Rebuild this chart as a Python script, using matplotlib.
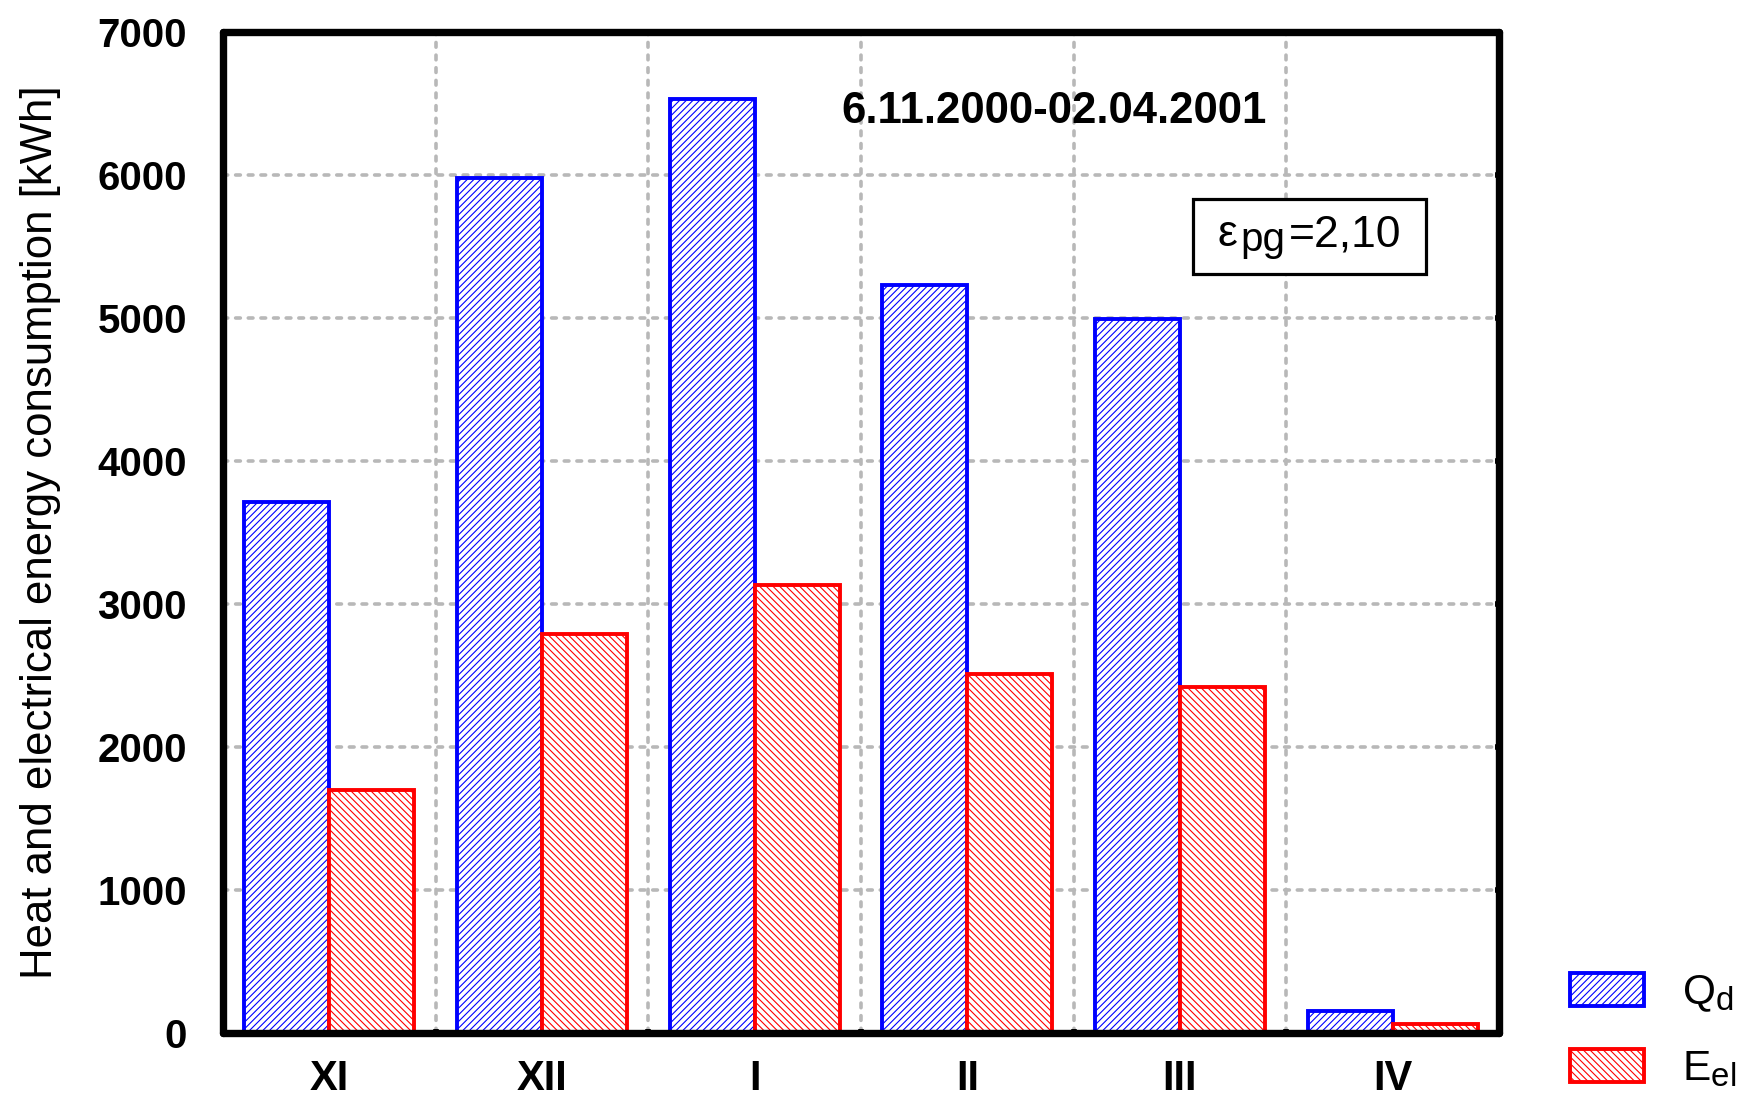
import matplotlib
matplotlib.use('Agg')
import matplotlib.pyplot as plt
import matplotlib._mathtext as mathtext_internal
from matplotlib.offsetbox import (TextArea, HPacker, VPacker, DrawingArea,
                                  AnchoredOffsetbox)
import numpy as np

# Monthly consumption, heating season 2000/2001
months = ['XI', 'XII', 'I', 'II', 'III', 'IV']
heat_qd = [3710, 5980, 6530, 5230, 4990, 155]      # heat delivered Q_d [kWh]
elec_eel = [1700, 2790, 3130, 2510, 2420, 65]      # electricity used E_el [kWh]
y_ticks = [0, 1000, 2000, 3000, 4000, 5000, 6000, 7000]

plt.rcParams['font.family'] = ['Liberation Sans', 'DejaVu Sans']
plt.rcParams['mathtext.fontset'] = 'custom'
plt.rcParams['mathtext.rm'] = 'Liberation Sans'
plt.rcParams['mathtext.it'] = 'Liberation Sans'
plt.rcParams['mathtext.bf'] = 'Liberation Sans:bold'
plt.rcParams['hatch.linewidth'] = 0.8
# slightly larger subscripts in the legend labels
mathtext_internal.SHRINK_FACTOR = 0.78

W, H = 1749, 1096
fig = plt.figure(figsize=(W / 100, H / 100), dpi=100)
ax = fig.add_axes([223 / W, 63 / H, 1276 / W, 1001 / H])

x = np.arange(len(months)) + 0.5
w = 0.4
blue = '#0000ff'
red = '#ff0000'
b1 = ax.bar(x - w / 2, heat_qd, w, facecolor='white', edgecolor=blue,
            hatch='/////', linewidth=2.8, zorder=2)
b2 = ax.bar(x + w / 2, elec_eel, w, facecolor='white', edgecolor=red,
            hatch='\\\\\\\\\\', linewidth=2.8, zorder=2)

ax.set_xlim(0, 6)
ax.set_ylim(0, 7000)
ax.set_axisbelow(True)

ax.set_yticks(y_ticks)
ax.set_yticklabels([str(v) for v in y_ticks], fontweight='bold', fontsize=29)
ax.set_xticks(x)
ax.set_xticklabels(months, fontweight='bold', fontsize=30)
ax.set_xticks(np.arange(1, 6), minor=True)

grid_kw = dict(color='#b8b8b8', linewidth=2.6, linestyle=(0, (1.3, 2.2)),
               dash_capstyle='round')
ax.grid(axis='y', which='major', **grid_kw)
ax.grid(axis='x', which='minor', **grid_kw)
ax.grid(axis='x', which='major', visible=False)

ax.tick_params(axis='x', which='major', length=0, pad=19)
ax.tick_params(axis='x', which='minor', direction='in', length=3, width=4,
               top=True, bottom=True)
ax.tick_params(axis='y', which='major', direction='in', length=3, width=4,
               left=True, right=True, pad=26)

for sp in ax.spines.values():
    sp.set_linewidth(5.3)
    sp.set_capstyle('round')
    sp.set_joinstyle('round')

ax.set_ylabel('Heat and electrical energy consumption [kWh]', fontsize=31.5)
ax.yaxis.set_label_coords(-0.127, 0.5)

ax.text(3.91, 6443, '6.11.2000-02.04.2001', ha='center', va='center',
        fontsize=31.5, fontweight='bold')

# framed coefficient label: epsilon with a lowered "pg" subscript
eps = TextArea('ε', textprops=dict(fontsize=32))
sub = VPacker(children=[DrawingArea(1, 5), TextArea('pg', textprops=dict(fontsize=29))],
              pad=0, sep=0, align='left')
val = TextArea('=2,10', textprops=dict(fontsize=32))
row = HPacker(children=[DrawingArea(4, 1), eps, sub, val, DrawingArea(4, 1)],
              pad=0, sep=2.5, align='top')
coef_box = AnchoredOffsetbox(loc='center', child=row, pad=1.1, borderpad=0,
                             frameon=True, bbox_to_anchor=(0.8516, 0.7957),
                             bbox_transform=ax.transAxes)
coef_box.patch.set_boxstyle('square', pad=0)
coef_box.patch.set_edgecolor('black')
coef_box.patch.set_facecolor('white')
coef_box.patch.set_linewidth(2.3)
ax.add_artist(coef_box)

leg = ax.legend([b1, b2], [r'$\mathrm{Q_d}$', r'$\mathrm{E_{el}}$'],
                loc='lower left', bbox_to_anchor=(1570 / W, 7 / H),
                bbox_transform=fig.transFigure, frameon=False, fontsize=30.5,
                handlelength=1.75, handleheight=0.83, handletextpad=0.9,
                labelspacing=0.82, borderpad=0, borderaxespad=0)

fig.savefig('out.png', dpi=100)
